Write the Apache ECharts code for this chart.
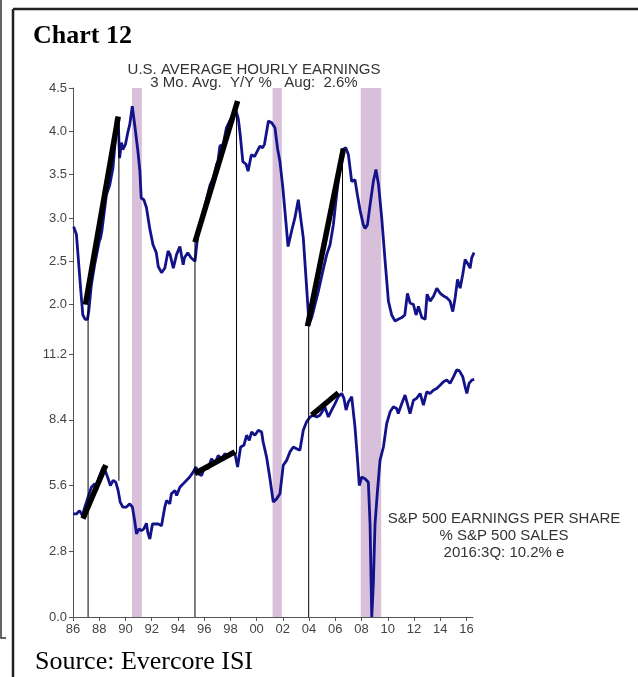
<!DOCTYPE html>
<html>
<head>
<meta charset="utf-8">
<script src="https://cdn.jsdelivr.net/npm/echarts@6/dist/echarts.min.js"></script>
<style>
  html, body { margin: 0; padding: 0; background: #fff; }
  #chart { width: 638px; height: 677px; }
</style>
</head>
<body>
<div id="chart"></div>
<script>
// 平均时薪 (3 mo. avg, y/y %)
const aheYears = [1986.05, 1986.26, 1986.4, 1986.6, 1986.75, 1986.93, 1987.1, 1987.2, 1987.4, 1987.65, 1988.0, 1988.1, 1988.2,
  1988.55, 1988.8, 1989.05, 1989.2, 1989.3, 1989.45, 1989.55, 1989.7, 1989.8, 1990.0, 1990.2, 1990.33, 1990.52, 1990.7,
  1990.95, 1991.1, 1991.2, 1991.4, 1991.6, 1991.85, 1992.1, 1992.35, 1992.5, 1992.75, 1993.0, 1993.25, 1993.4, 1993.65,
  1993.9, 1994.15, 1994.4, 1994.5, 1994.75, 1995.0, 1995.3, 1995.55, 1995.7, 1995.95, 1996.2, 1996.45, 1996.7, 1996.95,
  1997.05, 1997.2, 1997.45, 1997.7, 1997.95, 1998.2, 1998.45, 1998.6, 1998.75, 1998.95, 1999.2, 1999.35, 1999.6, 1999.85,
  2000.0, 2000.25, 2000.45, 2000.6, 2000.9, 2001.15, 2001.4, 2001.6, 2001.78, 2002.0, 2002.16, 2002.4, 2002.67, 2002.92,
  2003.18, 2003.43, 2003.56, 2003.8, 2004.0, 2004.2, 2004.45, 2004.7, 2005.1, 2005.35, 2005.6, 2005.85, 2006.1, 2006.35,
  2006.6, 2006.8, 2007.0, 2007.25, 2007.5, 2007.68, 2007.9, 2008.14, 2008.27, 2008.45, 2008.65, 2008.9, 2009.1, 2009.3,
  2009.54, 2009.8, 2010.05, 2010.3, 2010.56, 2010.8, 2011.07, 2011.3, 2011.5, 2011.7, 2011.96, 2012.16, 2012.34, 2012.6,
  2012.85, 2013.0, 2013.23, 2013.5, 2013.74, 2014.0, 2014.25, 2014.5, 2014.75, 2014.96, 2015.14, 2015.32, 2015.52,
  2015.72, 2015.9, 2016.15, 2016.28, 2016.4, 2016.58];
const aheValues = [2.90, 2.81, 2.54, 2.15, 1.88, 1.83, 1.83, 1.92, 2.23, 2.46, 2.73, 2.77, 2.85,
  3.27, 3.38, 3.58, 3.85, 4.15, 4.12, 3.69, 3.87, 3.79, 3.85, 4.0, 4.08, 4.29, 4.08,
  3.77, 3.54, 3.23, 3.21, 3.12, 2.88, 2.69, 2.60, 2.44, 2.37, 2.42, 2.62, 2.58, 2.42,
  2.58, 2.67, 2.46, 2.54, 2.60, 2.54, 2.50, 2.85, 2.92, 3.08, 3.23, 3.38, 3.46, 3.62,
  3.65, 3.83, 3.85, 4.04, 4.12, 4.19, 4.23, 4.15, 3.96, 3.65, 3.62, 3.54, 3.73, 3.71,
  3.69, 3.83, 3.81, 3.85, 4.12, 4.10, 4.04, 3.80, 3.65, 3.35, 3.08, 2.67, 2.85, 3.0,
  3.21, 2.92, 2.77, 2.23, 1.77, 1.85, 2.0, 2.15, 2.42, 2.58, 2.69, 2.92, 3.27, 3.58,
  3.79, 3.81, 3.73, 3.42, 3.44, 3.27, 3.08, 2.92, 2.88, 2.92, 3.15, 3.42, 3.56, 3.38,
  3.0, 2.5, 2.04, 1.88, 1.81, 1.83, 1.85, 1.88, 2.13, 2.02, 2.0, 1.88, 1.98, 1.85,
  1.83, 2.12, 2.04, 2.1, 2.19, 2.13, 2.1, 2.08, 2.04, 1.92, 2.08, 2.29, 2.19,
  2.35, 2.52, 2.46, 2.42, 2.54, 2.6];

// 标普500 EPS / 销售额 %
const epsYears = [1986.0, 1986.26, 1986.5, 1986.72, 1986.9, 1987.15, 1987.4, 1987.66, 1987.8, 1988.0, 1988.3, 1988.5,
  1988.68, 1988.85, 1989.06, 1989.26, 1989.44, 1989.6, 1989.8, 1990.07, 1990.33, 1990.53, 1990.7, 1990.84, 1991.04,
  1991.22, 1991.4, 1991.6, 1991.7, 1991.86, 1992.06, 1992.25, 1992.5, 1992.75, 1993.0, 1993.13, 1993.38, 1993.5,
  1993.77, 1993.9, 1994.15, 1994.4, 1994.66, 1994.9, 1995.16, 1995.37, 1995.55, 1995.8, 1996.05, 1996.3, 1996.56,
  1996.82, 1997.07, 1997.33, 1997.58, 1997.84, 1998.09, 1998.35, 1998.55, 1998.78, 1999.03, 1999.24, 1999.44, 1999.62,
  1999.87, 2000.13, 2000.38, 2000.5, 2000.76, 2001.0, 2001.27, 2001.52, 2001.78, 2002.03, 2002.29, 2002.54, 2002.8,
  2003.05, 2003.3, 2003.56, 2003.81, 2004.07, 2004.32, 2004.58, 2004.83, 2005.08, 2005.2, 2005.47, 2005.72, 2005.98,
  2006.23, 2006.49, 2006.66, 2006.82, 2007.0, 2007.25, 2007.5, 2007.68, 2007.83, 2008.01, 2008.27, 2008.52, 2008.65,
  2008.78, 2008.9, 2009.03, 2009.2, 2009.41, 2009.67, 2009.92, 2010.18, 2010.43, 2010.68, 2010.8, 2011.07, 2011.32,
  2011.45, 2011.7, 2011.96, 2012.2, 2012.47, 2012.72, 2012.97, 2013.22, 2013.48, 2013.73, 2013.99, 2014.25, 2014.5,
  2014.75, 2015.01, 2015.26, 2015.45, 2015.72, 2015.9, 2016.03, 2016.2, 2016.41, 2016.59];
const epsValues = [4.39, 4.39, 4.53, 4.32, 4.68, 5.1, 5.53, 5.67, 5.39, 5.96, 6.39, 6.17,
  5.89, 5.6, 5.82, 5.74, 5.39, 4.89, 4.68, 4.68, 4.82, 4.68, 4.11, 3.54, 3.75,
  3.68, 3.75, 3.99, 3.61, 3.32, 3.96, 3.96, 3.96, 3.89, 4.68, 4.96, 4.82, 5.25,
  5.39, 5.17, 5.53, 5.67, 5.82, 5.96, 6.17, 6.39, 6.1, 6.03, 6.39, 6.31, 6.74,
  6.53, 6.88, 6.74, 6.95, 6.88, 7.03, 6.95, 6.39, 7.24, 7.31, 7.74, 7.52, 7.88,
  7.74, 7.95, 7.88, 7.45, 6.81, 5.96, 4.9, 5.03, 5.25, 6.46, 6.67, 7.03, 7.24,
  7.17, 7.1, 7.95, 8.31, 8.52, 8.59, 8.52, 8.59, 8.81, 8.95, 8.52, 8.81, 9.09,
  9.38, 9.52, 9.31, 8.81, 9.16, 9.38, 8.1, 6.81, 5.6, 5.96, 5.89, 5.74, 3.96,
  0.0, 1.4, 3.96, 5.25, 6.67, 7.24, 8.24, 8.74, 8.95, 8.88, 8.66, 9.09, 9.45,
  9.38, 8.66, 9.23, 9.31, 9.52, 9.02, 9.59, 9.52, 9.66, 9.73, 9.87, 10.02, 10.09,
  9.95, 10.23, 10.52, 10.49, 10.23, 9.8, 9.52, 9.95, 10.09, 10.12];

// 衰退期
const recessions = [[1990.5, 1991.25], [2001.22, 2001.92], [2007.94, 2009.5]];

// 趋势线 [x1, y1, x2, y2]
const trendTop = [[1986.95, 2.0, 1989.45, 4.17], [1995.3, 2.72, 1998.55, 4.35], [2003.88, 1.75, 2006.62, 3.8]];
const trendBottom = [[1986.76, 4.19, 1988.5, 6.47], [1995.29, 6.11, 1998.34, 7.03], [2004.2, 8.6, 2006.23, 9.55]];

// 竖线: 年份, 上图起点, 下图终点
const markerYears = [1987.15, 1989.5, 1995.3, 1998.47, 2003.97, 2006.55];
const markerTopFrom = [2.0, 4.15, 2.77, 4.35, 1.75, 3.79];
const markerBottomTo = [0, 5.8, 0, 6.95, 0, 9.6];

const xTicks = [1986, 1988, 1990, 1992, 1994, 1996, 1998, 2000, 2002, 2004, 2006, 2008, 2010, 2012, 2014, 2016];
const topTicks = [2.0, 2.5, 3.0, 3.5, 4.0, 4.5];
const bottomTicks = [0, 2.8, 5.6, 8.4, 11.2];

const zip = (a, b) => a.map((v, i) => [v, b[i]]);
const axisGray = '#555';
const blue = '#12128a';
const purple = '#d8c0db';
const sans = 'Liberation Sans, Arial, sans-serif';
const serif = 'Liberation Serif, Times New Roman, serif';
const TOP_MIN = 1.43;

let chart = echarts.init(document.getElementById('chart'));

function segSeries(idx, segs, width) {
  return segs.map(s => ({
    type: 'line', xAxisIndex: idx, yAxisIndex: idx, symbol: 'none', silent: true, z: 4,
    lineStyle: { color: '#000', width: width },
    data: [[s[0], s[1]], [s[2], s[3]]]
  }));
}

const recessionArea = {
  silent: true,
  itemStyle: { color: purple },
  data: recessions.map(r => [{ xAxis: r[0] }, { xAxis: r[1] }])
};

const xAxisBase = {
  type: 'value', min: 1986, max: 2016.5, splitLine: { show: false }
};

const series = [
  { type: 'line', xAxisIndex: 0, yAxisIndex: 0, data: [], markArea: recessionArea, z: 1 },
  { type: 'line', xAxisIndex: 1, yAxisIndex: 1, data: [], markArea: recessionArea, z: 1 },
  ...segSeries(0, markerYears.map((y, i) => [y, markerTopFrom[i], y, TOP_MIN]), 1),
  ...segSeries(1, markerYears.map((y, i) => [y, 11.2, y, markerBottomTo[i]]), 1),
  {
    type: 'line', xAxisIndex: 0, yAxisIndex: 0, symbol: 'none', z: 3,
    lineStyle: { color: blue, width: 2.8 }, data: zip(aheYears, aheValues)
  },
  {
    type: 'line', xAxisIndex: 1, yAxisIndex: 1, symbol: 'none', z: 3,
    lineStyle: { color: blue, width: 2.8 }, data: zip(epsYears, epsValues)
  },
  ...segSeries(0, trendTop, 5.5),
  ...segSeries(1, trendBottom, 5.5)
];

chart.setOption({
  animation: false,
  grid: [
    { left: 73, top: 88, width: 400, height: 266 },
    { left: 73, top: 354, width: 400, height: 263 }
  ],
  xAxis: [
    Object.assign({}, xAxisBase, { gridIndex: 0, show: false }),
    Object.assign({}, xAxisBase, {
      gridIndex: 1,
      axisLine: { lineStyle: { color: axisGray, width: 1 } },
      axisTick: { customValues: xTicks, length: 4, inside: false, lineStyle: { color: axisGray } },
      axisLabel: {
        customValues: xTicks, color: '#444', fontFamily: sans, fontSize: 13, margin: 6,
        formatter: v => String(Math.round(v) % 100).padStart(2, '0')
      }
    })
  ],
  yAxis: [
    {
      type: 'value', gridIndex: 0, min: TOP_MIN, max: 4.5, splitLine: { show: false },
      axisLine: { show: true, lineStyle: { color: axisGray } },
      axisTick: { show: true, customValues: topTicks, length: 4, lineStyle: { color: axisGray } },
      axisLabel: { customValues: topTicks, color: '#444', fontFamily: sans, fontSize: 13, margin: 6,
        formatter: v => v.toFixed(1) }
    },
    {
      type: 'value', gridIndex: 1, min: 0, max: 11.2, splitLine: { show: false },
      axisLine: { show: true, lineStyle: { color: axisGray } },
      axisTick: { show: true, customValues: bottomTicks, length: 4, lineStyle: { color: axisGray } },
      axisLabel: { customValues: bottomTicks, color: '#444', fontFamily: sans, fontSize: 13, margin: 6,
        formatter: v => v.toFixed(1) }
    }
  ],
  series: series,
  graphic: [
    // 外框
    { type: 'line', shape: { x1: 13, y1: 9, x2: 638, y2: 9 }, style: { stroke: '#222', lineWidth: 2.5 } },
    { type: 'line', shape: { x1: 13, y1: 9, x2: 13, y2: 677 }, style: { stroke: '#222', lineWidth: 2.5 } },
    { type: 'polyline', shape: { points: [[1, 0], [1, 638], [6, 638]] }, style: { stroke: '#333', lineWidth: 1.5, fill: null } },
    { type: 'text', left: 33, top: 23, style: { text: 'Chart 12', font: 'bold 26px ' + serif, fill: '#000' } },
    { type: 'text', left: 35, top: 649, style: { text: 'Source: Evercore ISI', font: '26px ' + serif, fill: '#000' } },
    {
      type: 'text', x: 254, y: 63,
      style: { text: 'U.S. AVERAGE HOURLY EARNINGS\n3 Mo. Avg.  Y/Y %   Aug:  2.6%', font: '15px ' + sans,
        fill: '#333', align: 'center', lineHeight: 13 }
    },
    {
      type: 'text', x: 504, y: 510,
      style: { text: 'S&P 500 EARNINGS PER SHARE\n% S&P 500 SALES\n2016:3Q: 10.2% e', font: '15px ' + sans,
        fill: '#333', align: 'center', lineHeight: 17 }
    }
  ]
});
</script>
</body>
</html>
